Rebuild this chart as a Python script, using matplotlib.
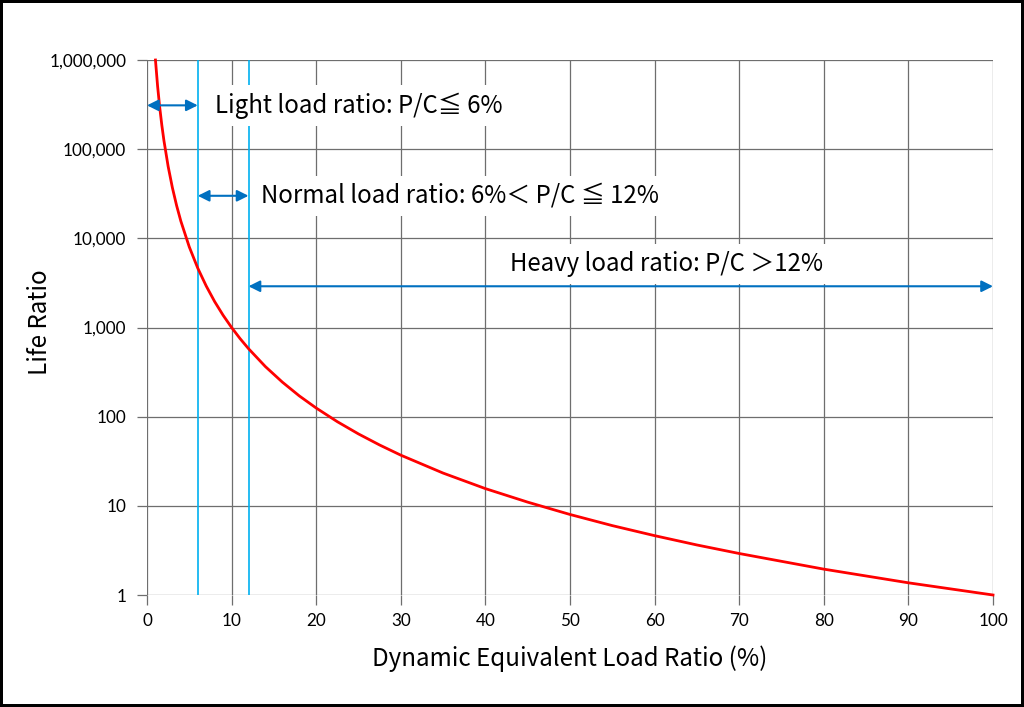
import matplotlib
matplotlib.use("Agg")
import matplotlib.pyplot as plt
from matplotlib.ticker import FixedLocator, FuncFormatter

# Data
load_ratio = [1, 1.25, 1.5, 1.75, 2, 2.5, 3, 3.5, 4, 5, 6, 7, 8, 9, 10, 11, 12, 14, 16, 18, 20,
              22.5, 25, 27.5, 30, 35, 40, 45, 50, 55, 60, 65, 70, 80, 90, 100]
life_ratio = [1000000, 512000, 296000, 186600, 125000, 64000, 37000, 23300, 15600, 8000, 4630,
              2920, 1950, 1370, 1000, 751, 579, 364, 244, 171, 125,
              87.8, 64, 48.1, 37, 23.3, 15.6, 11.0, 8.0, 6.0, 4.63, 3.64, 2.92, 1.95, 1.37, 1.0]

x_ticks = [0, 10, 20, 30, 40, 50, 60, 70, 80, 90, 100]
y_ticks = [1, 10, 100, 1000, 10000, 100000, 1000000]

boundaries = [6, 12]
light_arrow = (0, 6, 3.1e5)
normal_arrow = (6, 12, 3.0e4)
heavy_arrow = (12, 100, 2.9e3)

labels = ["Light load ratio: P/C≦ 6%",
          "Normal load ratio: 6%＜ P/C ≦ 12%",
          "Heavy load ratio: P/C ＞12%"]

CJK = ["Noto Sans CJK JP", "DejaVu Sans"]
TICKF = ["Lato", "DejaVu Sans"]

fig = plt.figure(figsize=(10.24, 7.07), dpi=100, edgecolor="black", linewidth=4)
ax = fig.add_axes([147/1024, 1-595/707, (993-147)/1024, (595-60)/707])

ax.set_xlim(0, 100)
ax.set_yscale("log")
ax.set_ylim(1, 1e6)

gridc = "#6e6e6e"
ax.xaxis.set_major_locator(FixedLocator(x_ticks))
ax.yaxis.set_major_locator(FixedLocator(y_ticks))
ax.yaxis.set_minor_locator(FixedLocator([]))
ax.yaxis.set_major_formatter(FuncFormatter(lambda v, p: f"{int(round(v)):,}"))
ax.grid(True, which="major", color=gridc, lw=0.9, zorder=0)
for s in ax.spines.values():
    s.set_visible(False)
ax.tick_params(axis="both", which="major", length=7, width=0.9, color=gridc,
               labelsize=12.3, pad=6)
ax.tick_params(axis="y", pad=8)
for lab in ax.get_xticklabels() + ax.get_yticklabels():
    lab.set_family(TICKF)

for b in boundaries:
    ax.axvline(b, color="#00B0F0", lw=1.2, zorder=2)

ax.plot(load_ratio, life_ratio, color="red", lw=2, zorder=3, clip_on=False)

for (x0, x1, yv) in (light_arrow, normal_arrow, heavy_arrow):
    ax.annotate("", xy=(x1, yv), xytext=(x0, yv),
                arrowprops=dict(arrowstyle="<|-|>", color="#0070C0", lw=1.5,
                                mutation_scale=17, shrinkA=0, shrinkB=0),
                zorder=4, annotation_clip=False)

bbox = dict(facecolor="white", edgecolor="none", pad=5)
fs = 17.3
ax.text(8.0, 3.1e5, labels[0], family=CJK, fontsize=fs, va="center", ha="left",
        bbox=bbox, zorder=5)
ax.text(13.5, 3.0e4, labels[1], family=CJK, fontsize=fs, va="center", ha="left",
        bbox=bbox, zorder=5)
ax.text(42.9, 5150, labels[2], family=CJK, fontsize=fs, va="center", ha="left",
        bbox=bbox, zorder=5)

ax.set_xlabel("Dynamic Equivalent Load Ratio (%)", family=CJK, fontsize=17.4, labelpad=12)
ax.set_ylabel("Life Ratio", family=CJK, fontsize=17.4)
ax.yaxis.set_label_coords(-0.1265, 0.51)
ax.yaxis.label.set_va("center")

fig.savefig("out.png", dpi=100)
